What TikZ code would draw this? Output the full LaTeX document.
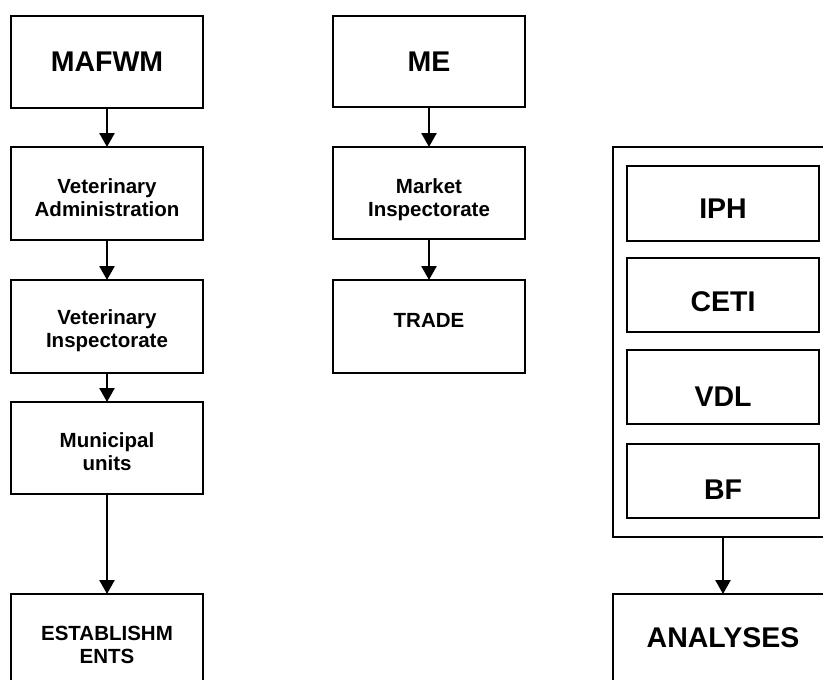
\documentclass[tikz,border=0pt]{standalone}
\usepackage{fontspec}
\setmainfont{Liberation Sans}
\usetikzlibrary{arrows.meta}
\begin{document}
\begin{tikzpicture}[x=1pt,y=-1pt,
  box/.style={draw,line width=1.8pt,rectangle,inner sep=0pt,outer sep=0pt,minimum width=192pt},
  bigtxt/.style={font=\fontsize{28.5}{30}\selectfont\bfseries,inner sep=0pt,align=center},
  smalltxt/.style={font=\fontsize{20.5}{23}\selectfont\bfseries,inner sep=0pt,align=center},
  arr/.style={line width=2.6pt,-{Triangle[width=15pt,length=14pt]}}]
\useasboundingbox (0,0) rectangle (823,680);
\clip (0,0) rectangle (823,680);
% left column
\node[box,minimum height=92pt] (mafwm) at (107,62) {};
\node[bigtxt] (tmafwm) at (107,62) {MAFWM};
\node[box,minimum height=93pt] (va) at (107,193.5) {};
\node[smalltxt] (tva) at (107,198) {Veterinary\\Administration};
\node[box,minimum height=93pt] (vi) at (107,326.5) {};
\node[smalltxt] (tvi) at (107,331) {Veterinary\\Inspectorate};
\node[box,minimum height=92pt] (mu) at (107,448) {};
\node[smalltxt] (tmu) at (107,452) {Municipal\\units};
\node[box,minimum height=92pt] (est) at (107,640) {};
\node[smalltxt] (test) at (107,645) {ESTABLISHM\\ENTS};
% middle column
\node[box,minimum height=91pt] (me) at (429,61.5) {};
\node[bigtxt] (tme) at (429,62) {ME};
\node[box,minimum height=92pt] (mi) at (429,193) {};
\node[smalltxt] (tmi) at (429,200) {Market\\Inspectorate};
\node[box,minimum height=93pt] (trade) at (429,326.5) {};
\node[smalltxt] (ttrade) at (429,320) {TRADE};
% right column
\node[box,minimum width=220pt,minimum height=390pt] (lab) at (723,342) {};
\node[box,minimum height=75pt] (iph) at (723,203.5) {};
\node[bigtxt] (tiph) at (723,209) {IPH};
\node[box,minimum height=74pt] (ceti) at (723,295) {};
\node[bigtxt] (tceti) at (723,302) {CETI};
\node[box,minimum height=74pt] (vdl) at (723,387) {};
\node[bigtxt] (tvdl) at (723,397) {VDL};
\node[box,minimum height=74pt] (bf) at (723,481) {};
\node[bigtxt] (tbf) at (723,490) {BF};
\node[box,minimum width=220pt,minimum height=92pt] (an) at (723,640) {};
\node[bigtxt] (tan) at (723,638) {ANALYSES};
% arrows
\draw[arr] (mafwm.south) -- (va.north);
\draw[arr] (va.south) -- (vi.north);
\draw[arr] (vi.south) -- (mu.north);
\draw[arr] (mu.south) -- (est.north);
\draw[arr] (me.south) -- (mi.north);
\draw[arr] (mi.south) -- (trade.north);
\draw[arr] (lab.south) -- (an.north);
\end{tikzpicture}
\end{document}
